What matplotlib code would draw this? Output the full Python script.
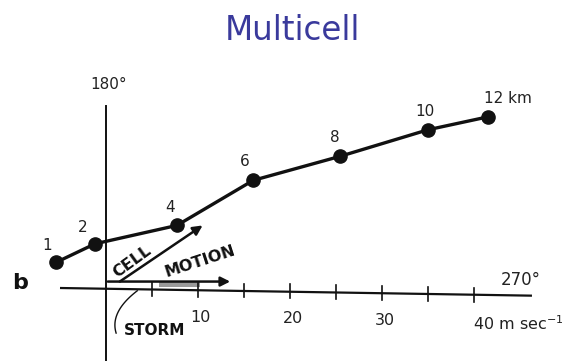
import matplotlib
matplotlib.use("Agg")
import matplotlib.pyplot as plt
import numpy as np

# Hodograph: wind vectors (m/s) at each height (km)
heights = [1, 2, 4, 6, 8, 10, 12]
u_wind = [-5.4, -1.2, 7.7, 16.0, 25.4, 35.0, 41.5]
v_wind = [2.8, 4.8, 6.8, 11.7, 14.3, 17.2, 18.6]
height_labels = ["1", "2", "4", "6", "8", "10", "12 km"]

# Axis ticks (m/s)
tick_values = [5, 10, 15, 20, 25, 30, 35, 40]
tick_labels = ["10", "20", "30", "40 m sec$^{-1}$"]
tick_label_values = [10, 20, 30, 40]

# Motion vectors (m/s)
storm_motion = (13.5, 0.7)
cell_motion_start = (1.5, 0.7)
cell_motion_end = (10.5, 6.8)

px = 9.2          # pixels per m/s
tilt = -0.018     # slight slope of the hand-drawn east axis

fig = plt.figure(figsize=(5.77, 3.61), dpi=100)
ax = fig.add_axes([0, 0, 1, 1])
ax.set_xlim(-106 / px, (577 - 106) / px)
ax.set_ylim((288 - 361) / px, 288 / px)
ax.axis("off")

ink = "#111111"
txt = "#222222"

# Axes of the hodograph
ax.plot([-5.0, 46.3], [-5.0 * tilt * 0, 46.3 * tilt], color=ink, lw=1.6,
        solid_capstyle="butt")
ax.plot([0, 0], [-8.0, 19.8], color=ink, lw=1.4)
for t in tick_values:
    ax.plot([t, t], [t * tilt - 0.75, t * tilt + 0.75], color=ink, lw=1.2)
for t, lab in zip(tick_label_values, tick_labels):
    if t == 40:
        ax.text(t - 0.1, t * tilt - 3.2, lab, ha="left", va="center",
                fontsize=11.5, color=txt)
    else:
        ax.text(t + 0.3, t * tilt - 3.0, lab, ha="center", va="center",
                fontsize=11.5, color=txt)

ax.text(0.3, 22.1, "180°", ha="center", va="center", fontsize=11, color=txt)
ax.text(45.1, 0.9, "270°", ha="center", va="center", fontsize=12, color=txt)
ax.text(-9.35, 0.55, "b", ha="center", va="center", fontsize=16,
        fontweight="bold", color=ink)

# Storm motion vector with light shading
ax.fill_between([5.8, 10.2], [0.08, 0.08], [0.7, 0.7], color="#9a9a9a", lw=0)
ax.annotate("", xy=storm_motion, xytext=(0.2, storm_motion[1]),
            arrowprops=dict(arrowstyle="-|>", color=ink, lw=1.8,
                            mutation_scale=14, shrinkA=0, shrinkB=0))

# Cell motion vector
ax.annotate("", xy=cell_motion_end, xytext=cell_motion_start,
            arrowprops=dict(arrowstyle="-|>", color=ink, lw=1.8,
                            mutation_scale=14, shrinkA=0, shrinkB=0))

# Hand lettering along the vectors
ax.text(2.8, 2.9, "CELL", rotation=36, ha="center", va="center",
        fontsize=11.5, fontweight="bold", color=ink)
ax.text(10.2, 2.9, "MOTION", rotation=18, ha="center", va="center",
        fontsize=11.5, fontweight="bold", color=ink)
ax.text(5.3, -4.6, "STORM", ha="center", va="center",
        fontsize=11, fontweight="bold", color=ink)

# Curved leader from STORM up to the storm motion vector
s = np.linspace(0, 1, 40)
p0, p1, p2 = np.array([3.4, -0.3]), np.array([0.4, -2.6]), np.array([1.1, -4.9])
leader = ((1 - s) ** 2)[:, None] * p0 + (2 * (1 - s) * s)[:, None] * p1 \
    + (s ** 2)[:, None] * p2
ax.plot(leader[:, 0], leader[:, 1], color=ink, lw=1.0)

# Hodograph trace
ax.plot(u_wind, v_wind, color=ink, lw=2.4, marker="o", markersize=9.5,
        markerfacecolor=ink, markeredgecolor=ink, zorder=5)
label_offsets = [(-1.0, 1.85), (-1.3, 1.75), (-0.75, 2.0), (-0.9, 2.1),
                 (-0.55, 2.05), (-0.3, 1.95), (2.2, 2.05)]
for u, v, lab, (dx, dy) in zip(u_wind, v_wind, height_labels, label_offsets):
    ax.text(u + dx, v + dy, lab, ha="center", va="center",
            fontsize=11, color=txt)

# Title
fig.text(292 / 577, 1 - 40 / 361, "Multicell", ha="center", va="baseline",
         fontsize=23.5, color="#3a3a9c", family="DejaVu Sans")

fig.savefig("out.png", dpi=100, facecolor="white")
